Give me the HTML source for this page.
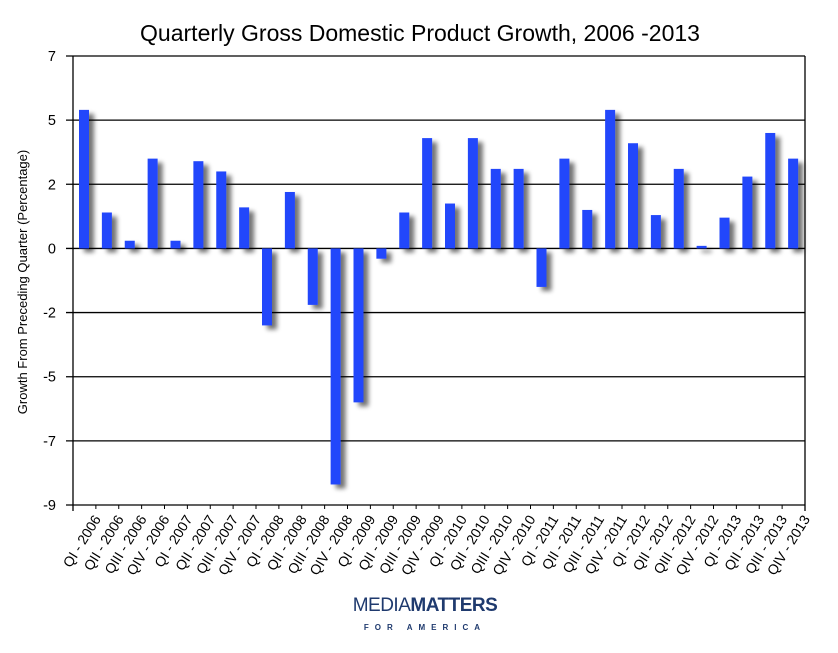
<!DOCTYPE html>
<html><head><meta charset="utf-8"><style>
body{margin:0;background:#fff;}
svg{display:block;font-family:"Liberation Sans",sans-serif;}
</style></head><body>
<svg id="chart" width="838" height="653">
<defs><filter id="sh" x="-50%" y="-20%" width="250%" height="150%"><feGaussianBlur in="SourceAlpha" stdDeviation="2.5"/><feOffset dx="5" dy="4" result="b"/><feComponentTransfer><feFuncA type="linear" slope="0.55"/></feComponentTransfer><feMerge><feMergeNode/><feMergeNode in="SourceGraphic"/></feMerge></filter></defs>
<text x="420" y="41" text-anchor="middle" font-size="23" fill="#000">Quarterly Gross Domestic Product Growth, 2006 -2013</text>
<text transform="translate(27,282) rotate(-90)" text-anchor="middle" font-size="13">Growth From Preceding Quarter (Percentage)</text>
<g id="grid"></g><g id="bars" filter="url(#sh)"></g><g id="axes"></g>
<text x="425" y="611" text-anchor="middle" font-size="19" fill="#1f3a6e" letter-spacing="-0.5">MEDIA<tspan font-weight="bold">MATTERS</tspan></text>
<text x="425" y="630" text-anchor="middle" font-size="8" font-weight="bold" fill="#1f3a6e" letter-spacing="6">FOR AMERICA</text>
</svg>
<script>
const categories=["QI - 2006","QII - 2006","QIII - 2006","QIV - 2006","QI - 2007","QII - 2007","QIII - 2007","QIV - 2007","QI - 2008","QII - 2008","QIII - 2008","QIV - 2008","QI - 2009","QII - 2009","QIII - 2009","QIV - 2009","QI - 2010","QII - 2010","QIII - 2010","QIV - 2010","QI - 2011","QII - 2011","QIII - 2011","QIV - 2011","QI - 2012","QII - 2012","QIII - 2012","QIV - 2012","QI - 2013","QII - 2013","QIII - 2013","QIV - 2013"];
const growth=[5.4,1.4,0.3,3.5,0.3,3.4,3.0,1.6,-3.0,2.2,-2.2,-9.2,-6.0,-0.4,1.4,4.3,1.75,4.3,3.1,3.1,-1.5,3.5,1.5,5.4,4.1,1.3,3.1,0.1,1.2,2.8,4.5,3.5];
const tickValues=[7.5,5,2.5,0,-2.5,-5,-7.5,-10];
const tickLabels=["7","5","2","0","-2","-5","-7","-9"];
const NS="http://www.w3.org/2000/svg";
const L=73,R=805,T=56,B=505,ymax=7.5,ymin=-10;
const y=v=>T+(ymax-v)*(B-T)/(ymax-ymin);
const cw=(R-L)/categories.length;
const x=i=>L+i*cw;
function mk(tag,attrs,parent){const e=document.createElementNS(NS,tag);for(const k in attrs)e.setAttribute(k,attrs[k]);document.getElementById(parent).appendChild(e);return e;}
tickValues.forEach((v,i)=>{
 const g=mk('line',{x1:66,x2:R,y1:y(v),y2:y(v),stroke:'#000','stroke-width':1.3},'grid');
 
 
 const t=mk('text',{x:56,y:y(v)+5,'text-anchor':'end','font-size':14.5},'axes');
 t.textContent=tickLabels[i];
 
 
});
const ax=mk('line',{x1:L,x2:L,y1:T,y2:B+6,stroke:'#000','stroke-width':1.3},'axes');


const rb=mk('line',{x1:R,x2:R,y1:T,y2:B+6,stroke:'#000','stroke-width':1.3},'axes');


growth.forEach((v,i)=>{
 const r=mk('rect',{x:x(i)+6,width:10,y:Math.min(y(v),y(0)),height:Math.abs(y(v)-y(0)),fill:'#2346fb'},'bars');
 
 
});
categories.forEach((c,i)=>{
 const tk=mk('line',{x1:x(i),x2:x(i),y1:B,y2:B+4,stroke:'#000'},'axes');
 
 
 const cx=x(i)+cw/2+17, cy=B+14;
 const t=mk('text',{x:cx,y:cy,'text-anchor':'end','font-size':14,transform:`rotate(-58 ${cx} ${cy})`},'axes');
 t.textContent=c;
 
 
});
</script>
</body></html>
